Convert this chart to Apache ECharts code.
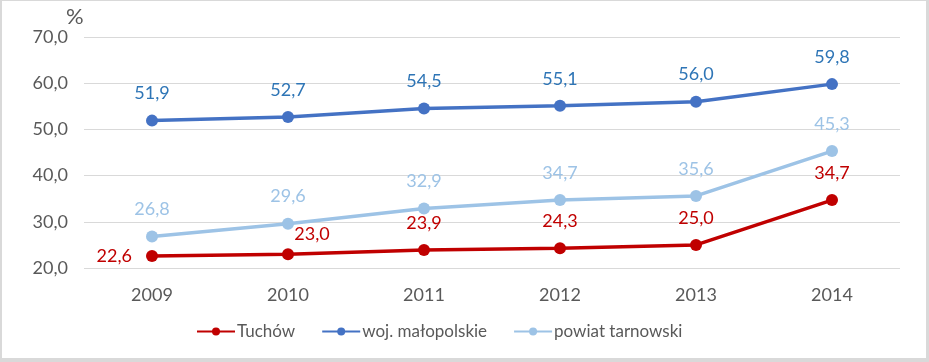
<!DOCTYPE html>
<html><head><meta charset="utf-8">
<script src="https://cdn.jsdelivr.net/npm/echarts@6/dist/echarts.min.js"></script>
<style>html,body{margin:0;padding:0;background:#fff}#c{width:929px;height:362px}
#frame{position:absolute;left:0;top:0;border-left:2px solid #d9d9d9;border-top:1px solid #d9d9d9;border-right:3px solid #d9d9d9;border-bottom:4px solid #d9d9d9;box-sizing:border-box;width:929px;height:362px;pointer-events:none}</style>
</head><body>
<div id="c"></div><div id="frame"></div>
<script>
const years = ['2009','2010','2011','2012','2013','2014'];
const tuchow = [22.6, 23.0, 23.9, 24.3, 25.0, 34.7];
const malopolskie = [51.9, 52.7, 54.5, 55.1, 56.0, 59.8];
const tarnowski = [26.8, 29.6, 32.9, 34.7, 35.6, 45.3];

const font = 'Lato, "Open Sans", sans-serif';
const fmt = v => v.toFixed(1).replace('.', ',');
function lbl(color){
  return {show:true, position:'top', distance:12, color:color, fontSize:18, fontFamily:font,
    formatter:p=>fmt(p.value)};
}
const tData = tuchow.map((v,i)=>{
  if(i===0) return {value:v, label:{position:'left', distance:14}};
  if(i===1) return {value:v, label:{position:'top', offset:[24,7]}};
  return v;
});
const chart = echarts.init(document.getElementById('c'));
chart.setOption({
  animation:false,
  grid:{left:84, right:29, top:37, bottom:94},
  legend:{bottom:17, left:191, itemWidth:38, itemHeight:10, itemGap:26,
    textStyle:{color:'#595959', fontSize:17, fontFamily:font, padding:[0,0,0,-3]},
    data:['Tuchów','woj. małopolskie','powiat tarnowski']},
  xAxis:{type:'category', data:years, boundaryGap:true,
    axisLine:{show:false}, axisTick:{show:false},
    axisLabel:{color:'#595959', fontSize:18, fontFamily:font, margin:18}},
  yAxis:{type:'value', min:20, max:70, interval:10, name:'%', nameGap:6,
    nameTextStyle:{color:'#595959', fontSize:22, fontFamily:font, align:'left', padding:[0,0,0,-18]},
    axisLabel:{color:'#595959', fontSize:18, fontFamily:font, margin:16, formatter:v=>fmt(v)},
    splitLine:{lineStyle:{color:'#d9d9d9'}}},
  series:[
    {name:'Tuchów', type:'line', data:tData, color:'#C00000', symbol:'circle', symbolSize:12,
      lineStyle:{width:3.5}, label:lbl('#C00000')},
    {name:'woj. małopolskie', type:'line', data:malopolskie, color:'#4472C4', symbol:'circle', symbolSize:12,
      lineStyle:{width:3.5}, label:lbl('#2E75B6')},
    {name:'powiat tarnowski', type:'line', data:tarnowski, color:'#9DC3E6', symbol:'circle', symbolSize:12,
      lineStyle:{width:3.5}, label:lbl('#9DC3E6')}
  ]
});
</script>
</body></html>
